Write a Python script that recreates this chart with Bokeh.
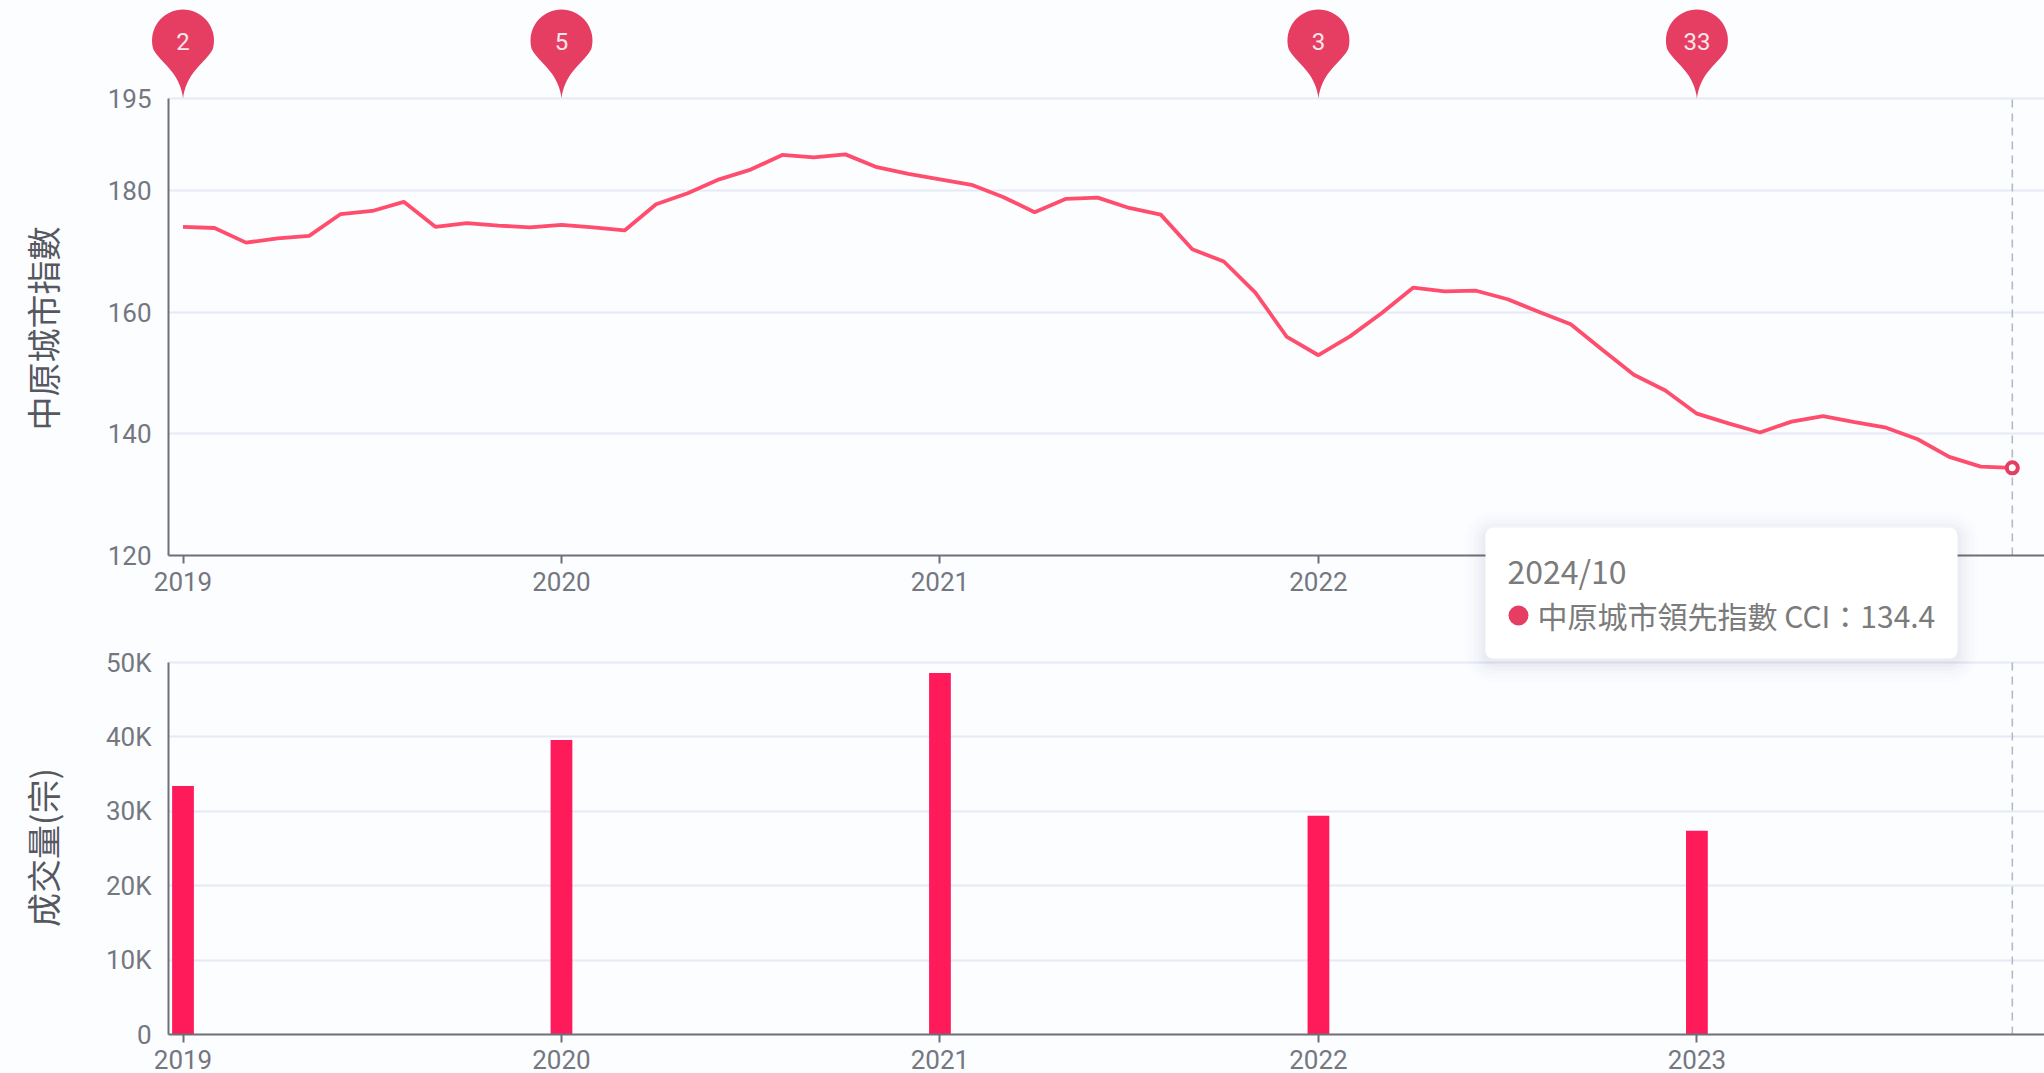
from math import cos, sin, radians, pi
from bokeh.plotting import figure
from bokeh.layouts import column
from bokeh.models import FixedTicker, BoxAnnotation
from bokeh.core.properties import value
from bokeh.embed import file_html
from bokeh.resources import INLINE

# ---------- data ----------
cci = [174.0, 173.8, 171.4, 172.1, 172.5, 176.1, 176.6, 178.1, 174.0, 174.6, 174.2, 173.9,
       174.3, 173.9, 173.4, 177.7, 179.5, 181.8, 183.4, 185.8, 185.4, 185.9, 183.8, 182.7,
       181.8, 180.9, 178.9, 176.4, 178.6, 178.8, 177.1, 176.0, 170.3, 168.3, 163.2, 155.9,
       152.9, 156.0, 159.8, 164.0, 163.4, 163.5, 162.1, 160.0, 158.0, 153.8, 149.7, 147.1,
       143.3, 141.7, 140.2, 142.0, 142.9, 141.9, 141.0, 139.1, 136.2, 134.6, 134.4]
tick_years = ["2019", "2020", "2021", "2022", "2023"]
tick_index = [0, 12, 24, 36, 48]
bar_values = [33400, 39600, 48600, 29400, 27400]
pin_index = [0, 12, 36, 48]
pin_labels = ["2", "5", "3", "33"]
cci_ticks = [120, 140, 160, 180, 195]
vol_ticks = [0, 10000, 20000, 30000, 40000, 50000]
vol_labels = ["0", "10K", "20K", "30K", "40K", "50K"]
last_index = 58

# ---------- page geometry ----------
BG = "#fcfdff"
FONT = "Noto Sans CJK TC"
TICKFONT = "Roboto"
TXT = "#74777f"
AXIS = "#6e7079"
GRID = "#e6eaf5"
STEP = 31.54          # px per month
X0 = 182.5            # page px of index 0
LEFT = 168
RIGHT = 2044
T_BOT = 555
CUT = 640             # page y where the top canvas ends and the bottom one starts
B_BOT = 1034
PAGE_H = 1073
T_SCALE = 6.087       # px per index point
B_SCALE = 74.4 / 10000

def xd(px): return (px - X0) / STEP
def yt(py): return 120 + (T_BOT - py) / T_SCALE
def yb(py): return (B_BOT - py) / B_SCALE

def base(frame_h, y0, y1, standoff, border_bottom=0):
    f = figure(frame_width=RIGHT - LEFT, frame_height=frame_h,
               x_range=(xd(LEFT), xd(RIGHT)), y_range=(y0, y1),
               output_backend="svg", toolbar_location=None,
               min_border_left=LEFT, min_border_right=0,
               min_border_top=0, min_border_bottom=border_bottom,
               background_fill_color=BG, border_fill_color=BG, outline_line_color=None)
    f.xgrid.visible = False
    f.ygrid.grid_line_color = GRID
    f.ygrid.grid_line_width = 2
    ax = f.xaxis[0]
    ax.ticker = FixedTicker(ticks=tick_index)
    ax.major_label_overrides = dict(zip(tick_index, tick_years))
    ax.major_tick_out = 8
    ax.major_tick_in = 0
    ax.minor_tick_out = 0
    ax.minor_tick_in = 0
    ax.major_tick_line_color = AXIS
    ax.major_tick_line_width = 2
    ax.axis_line_color = AXIS
    ax.axis_line_width = 2
    ax.major_label_standoff = standoff
    ay = f.yaxis[0]
    ay.major_tick_out = 0
    ay.major_tick_in = 0
    ay.minor_tick_out = 0
    ay.minor_tick_in = 0
    ay.axis_line_color = AXIS
    ay.axis_line_width = 2
    ay.major_label_standoff = 17
    for a in (ax, ay):
        a.major_label_text_font = TICKFONT
        a.major_label_text_font_size = "26px"
        a.major_label_text_color = TXT
    return f

# ---------- top chart ----------
p1 = base(T_BOT, 120, yt(0), 8, border_bottom=CUT - T_BOT)
p1.yaxis[0].ticker = FixedTicker(ticks=cci_ticks)
p1.yaxis[0].bounds = (120, 195)
p1.ygrid.bounds = (120, 195)
x_idx = list(range(len(cci)))
p1.segment([last_index], [120], [last_index], [195], line_color="#b4b9c8", line_width=1.6, line_dash="8 6")
p1.line(x_idx, cci, line_color="#ff4d6e", line_width=3.8)
p1.scatter([last_index], [cci[-1]], size=11, fill_color="#ffffff", line_color="#e63e62", line_width=4)

# ---------- bottom chart ----------
p2 = base(B_BOT - CUT, 0, yb(CUT), 7, border_bottom=PAGE_H - B_BOT)
p2.yaxis[0].ticker = FixedTicker(ticks=vol_ticks)
p2.yaxis[0].bounds = (0, 50000)
p2.ygrid.bounds = (0, 50000)
p2.yaxis[0].major_label_overrides = dict(zip(vol_ticks, vol_labels))
p2.segment([last_index], [0], [last_index], [50000], line_color="#b4b9c8", line_width=1.6, line_dash="8 6")
p2.vbar(x=tick_index, top=bar_values, width=0.69, bottom=0, fill_color="#ff1a5a", line_color=None)

# ---------- transparent layer over the page: pins, axis titles, tooltip (page px) ----------
p3 = figure(width=RIGHT, height=PAGE_H, x_range=(0, RIGHT), y_range=(PAGE_H, 0),
            x_axis_type=None, y_axis_type=None, output_backend="svg", toolbar_location=None,
            min_border=0, min_border_left=0, min_border_right=0, min_border_top=0, min_border_bottom=0,
            background_fill_color=None, border_fill_color=None,
            outline_line_color=None, margin=(-PAGE_H, 0, 0, 0))
p3.grid.visible = False

def pin_outline(ix):
    cx = X0 + ix * STEP
    tip = 98
    p0 = (29.5, 49); p1_ = (24, 37); p2_ = (3, 27); p3_ = (0, 0)
    right = []
    for k in range(0, 21):
        t = k / 20; u = 1 - t
        right.append((u**3*p0[0] + 3*u*u*t*p1_[0] + 3*u*t*t*p2_[0] + t**3*p3_[0],
                      u**3*p0[1] + 3*u*u*t*p1_[1] + 3*u*t*t*p2_[1] + t**3*p3_[1]))
    arc = [(31 * cos(radians(t)), 58 + 31 * sin(radians(t))) for t in range(-18, 199, 6)]
    left = [(-x, y) for x, y in right]
    pts = right[::-1] + arc + left
    return [cx + x for x, y in pts], [tip - y for x, y in pts]

outlines = [pin_outline(i) for i in pin_index]
p3.patches([o[0] for o in outlines], [o[1] for o in outlines], fill_color="#e63e62", line_color=None)
p3.text([X0 + i * STEP for i in pin_index], [41] * 4, text=pin_labels, text_align="center",
        text_baseline="middle", text_color="#f7e6ea", text_font=value(TICKFONT), text_font_size="24px")

p3.text([42, 42], [328, 847], text=["中原城市指數", "成交量(宗)"], angle=pi / 2, text_align="center",
        text_baseline="middle", text_font=value(FONT), text_font_size="34px", text_color="#55585f")

for e, a in [(20, .012), (16, .016), (12, .02), (8, .024), (4, .03)]:
    p3.add_layout(BoxAnnotation(left=1485 - e, right=1957 + e, top=531 - e, bottom=662 + e,
                                fill_color="#56688c", fill_alpha=a, line_color=None, border_radius=8 + e))
p3.add_layout(BoxAnnotation(left=1485, right=1957, top=527, bottom=658, fill_color="#ffffff",
                            fill_alpha=1, line_color=None, border_radius=8))
p3.add_layout(BoxAnnotation(left=1508, right=1528, top=605, bottom=625, fill_color="#e63e62",
                            fill_alpha=1, line_color=None, border_radius=10))
p3.text([1507], [569], text=["2024/10"], text_baseline="middle", text_font=value(FONT),
        text_font_size="32px", text_color="#7b7b7b", level="overlay")
p3.text([1537], [614], text=["中原城市領先指數 CCI：134.4"], text_baseline="middle", text_font=value(FONT),
        text_font_size="30px", text_color="#7b7b7b", level="overlay")

layout = column(column(p1, p2, spacing=0), p3, spacing=0)
html = file_html(layout, INLINE)
html = html.replace("</head>", "<style>html,body{background:%s;overflow:hidden}</style></head>" % BG)
open("out.html", "w").write(html)
